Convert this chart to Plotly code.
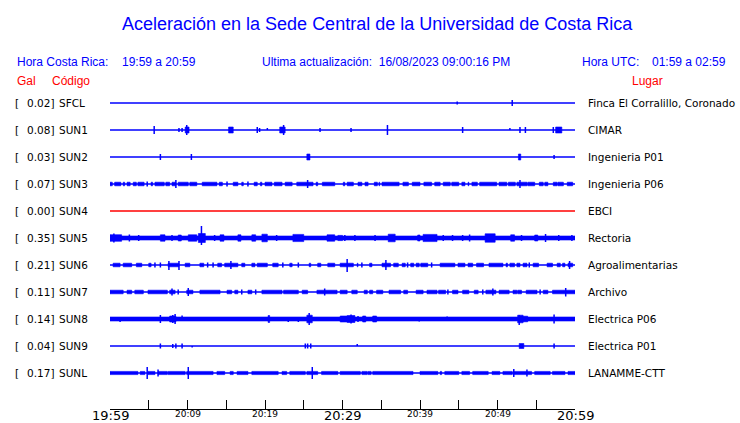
import plotly.graph_objects as go

# ---------------- data ----------------
codes = ["SFCL", "SUN1", "SUN2", "SUN3", "SUN4", "SUN5", "SUN6", "SUN7", "SUN8", "SUN9", "SUNL"]
gal = [0.02, 0.08, 0.03, 0.07, 0.00, 0.35, 0.21, 0.11, 0.14, 0.04, 0.17]
places = ["Finca El Corralillo, Coronado", "CIMAR", "Ingenieria P01", "Ingenieria P06", "EBCI",
          "Rectoria", "Agroalimentarias", "Archivo", "Electrica P06", "Electrica P01", "LANAMME-CTT"]
status_ok = [True, True, True, True, False, True, True, True, True, True, True]
# continuous noise level (relative amplitude) for each station
noise_level = [0, 0, 0, 0, 0, 2.0, 0, 0, 2.0, 0, 0]

# minutes after 19:59 for tick labels
tick_minutes = [0, 5, 10, 15, 20, 25, 30, 35, 40, 45, 50, 55, 60]
major_labels = {0: "19:59", 30: "20:29", 60: "20:59"}
minor_labels = {10: "20:09", 20: "20:19", 40: "20:39", 50: "20:49"}

# bursts: (start minute, end minute, amplitude); spikes: (minute, up amplitude, down amplitude)
sfcl_bursts = []
sfcl_spikes = [(44.8, 1.5, 1.5), (51.9, 3, 3)]

sun1_bursts = [(9.7, 10.2, 3), (15.3, 15.9, 3), (21.9, 22.6, 3), (57.5, 58.3, 3)]
sun1_spikes = [(5.7, 4, 4), (8.9, 2, 2), (9.3, 2, 2), (9.9, 5, 5), (19.0, 3, 3), (19.3, 2, 2),
               (20.3, 2, 0), (22.4, 5, 5), (27.1, 2, 2), (31.1, 2, 2), (35.8, 5, 5), (45.5, 3, 3),
               (51.6, 2, 0), (52.9, 3, 3), (53.6, 3, 3), (57.2, 3, 3)]

sun2_bursts = [(25.4, 25.8, 3), (52.7, 53.0, 3)]
sun2_spikes = [(6.5, 3, 3), (10.5, 3, 3), (57.3, 2, 2)]

sun3_bursts = [(0.0, 0.3, 1.8), (0.6, 1.4, 1.8), (1.7, 1.9, 1.8), (2.2, 2.6, 1.8), (3.0, 3.4, 1.8),
               (3.6, 4.4, 1.8), (5.3, 5.5, 1.8), (5.8, 7.0, 1.8), (7.2, 7.7, 1.8), (8.0, 8.5, 1.8),
               (8.8, 10.1, 1.8), (10.3, 11.2, 1.8), (11.9, 13.8, 1.8), (14.1, 14.5, 1.8),
               (15.9, 16.5, 1.8), (17.0, 17.2, 1.8), (18.6, 19.0, 1.8), (19.4, 19.6, 1.8),
               (20.0, 20.9, 1.8), (21.2, 22.2, 1.8), (22.6, 23.5, 1.8), (24.1, 26.2, 1.8),
               (26.6, 26.8, 1.8), (27.4, 29.0, 1.8), (30.1, 30.3, 1.8), (30.6, 31.4, 1.8),
               (32.0, 32.5, 1.8), (32.9, 33.3, 1.8), (34.1, 34.5, 1.8), (34.7, 34.8, 1.8),
               (35.1, 37.3, 1.8), (37.8, 38.5, 1.8), (39.0, 40.0, 1.8), (40.5, 41.5, 1.8),
               (41.9, 42.6, 1.8), (43.0, 43.9, 1.8), (44.1, 45.0, 1.8), (45.4, 45.8, 1.8),
               (46.2, 46.3, 1.8), (46.7, 47.4, 1.8), (47.7, 49.9, 1.8), (50.2, 51.2, 1.8),
               (51.4, 52.3, 1.8), (52.5, 53.8, 1.8), (53.9, 54.8, 1.8), (55.4, 55.9, 1.8),
               (56.1, 56.5, 1.8), (57.2, 57.7, 1.8), (57.8, 58.5, 1.8), (59.0, 59.7, 1.8)]
sun3_spikes = [(4.8, 2.5, 2.5), (8.5, 4, 4), (15.1, 2.5, 2.5), (17.8, 2.5, 2.5), (25.5, 4, 4), (52.9, 4, 4)]

sun4_bursts = []
sun4_spikes = []

sun5_bursts = [(0.0, 1.5, 3.3), (6.5, 7.1, 3.2), (8.8, 9.2, 3), (10.1, 11.2, 3.2), (11.4, 12.3, 4.5),
               (14.2, 14.7, 3.2), (16.5, 16.9, 3.2), (18.3, 18.8, 3.2), (19.6, 20.3, 3.8), (23.6, 25.0, 3.6),
               (28.0, 29.0, 3.2), (29.4, 30.0, 2.6), (35.9, 36.8, 3.8), (39.7, 40.0, 3), (40.4, 42.2, 3.6),
               (48.4, 49.7, 4.2), (51.7, 52.2, 3.2), (54.8, 55.2, 3)]
sun5_spikes = [(0.5, 4.5, 4.5), (2.5, 3.5, 3.5), (3.7, 3, 3), (8.0, 3, 3), (11.8, 12, 7), (13.5, 3, 3),
               (21.5, 3, 3), (30.3, 3, 3), (31.6, 3, 3), (34.2, 3, 3), (43.0, 3, 3), (44.2, 3, 3),
               (45.5, 3, 3), (46.4, 3.5, 3.5), (53.1, 3, 3), (56.2, 4, 4), (57.9, 3, 3), (59.6, 3, 3)]

sun6_bursts = [(0.4, 1.3, 1.8), (1.7, 2.8, 1.8), (3.4, 4.1, 1.8), (5.0, 5.3, 1.8), (7.5, 8.9, 1.8),
               (9.7, 10.3, 1.8), (11.6, 12.1, 1.8), (13.9, 14.4, 1.8), (14.8, 16.5, 1.8),
               (17.0, 17.4, 1.8), (18.3, 18.7, 1.8), (19.0, 20.3, 1.8), (21.0, 21.7, 1.8),
               (23.2, 23.5, 1.8), (25.7, 25.9, 1.8), (26.8, 27.2, 1.8), (28.1, 29.0, 1.8),
               (29.7, 31.4, 1.8), (31.9, 32.0, 1.8), (33.5, 33.8, 1.8), (35.1, 36.2, 1.8),
               (36.6, 37.2, 1.8), (37.7, 38.1, 1.8), (38.8, 39.2, 1.8), (39.5, 39.9, 1.8),
               (40.1, 41.0, 1.8), (42.6, 44.5, 1.8), (44.9, 45.8, 1.8), (46.2, 46.8, 1.8),
               (47.3, 48.2, 1.8), (48.9, 50.7, 1.8), (51.1, 51.3, 1.8), (51.6, 52.2, 1.8),
               (52.5, 52.9, 1.8), (53.3, 53.8, 1.8), (54.6, 55.3, 1.8), (56.4, 57.1, 1.8),
               (57.7, 58.1, 1.8), (58.4, 58.7, 1.8), (59.1, 59.7, 1.8)]
sun6_spikes = [(5.8, 2.5, 2.5), (6.5, 2.5, 2.5), (7.6, 4, 5), (8.9, 4, 5), (12.6, 2.5, 2.5),
               (13.3, 2.5, 2.5), (15.6, 4, 4), (22.3, 2.5, 2.5), (24.3, 2.5, 2.5), (30.6, 6, 7),
               (32.5, 2.5, 2.5), (35.6, 5, 5), (38.4, 2.5, 2.5), (41.5, 2.5, 2.5), (54.1, 2.5, 2.5),
               (59.3, 4, 4)]

sun7_bursts = [(0.0, 1.7, 1.8), (2.2, 2.8, 1.8), (3.2, 4.3, 1.8), (4.9, 7.4, 1.8), (7.7, 8.4, 1.8),
               (9.9, 10.7, 1.8), (11.6, 14.2, 1.8), (15.1, 15.7, 1.8), (16.1, 16.5, 1.8),
               (17.8, 18.3, 1.8), (19.6, 22.2, 1.8), (22.4, 24.3, 1.8), (24.8, 25.5, 1.8),
               (26.7, 29.3, 1.8), (29.7, 30.6, 1.8), (31.2, 31.9, 1.8), (32.8, 33.2, 1.8),
               (33.5, 33.9, 1.8), (34.4, 35.2, 1.8), (36.0, 37.5, 1.8), (37.9, 38.4, 1.8),
               (39.5, 40.4, 1.8), (40.9, 42.2, 1.8), (42.4, 43.3, 1.8), (44.2, 44.9, 1.8),
               (45.5, 46.3, 1.8), (47.0, 47.5, 1.8), (48.5, 49.8, 1.8), (50.2, 51.5, 1.8),
               (52.0, 52.5, 1.8), (52.6, 53.1, 1.8), (53.7, 55.1, 1.8), (55.9, 56.5, 1.8),
               (57.1, 60.0, 1.8)]
sun7_spikes = [(8.0, 3.5, 3.5), (8.8, 2.5, 2.5), (10.1, 4, 4), (17.0, 2.5, 2.5), (18.8, 2.5, 2.5),
               (27.7, 3.5, 3.5), (43.6, 2.5, 2.5), (48.1, 2.5, 2.5), (49.4, 3.5, 3.5), (55.5, 2.5, 2.5),
               (58.8, 4, 4.5)]

sun8_bursts = [(7.7, 8.5, 3), (20.4, 20.6, 3.5), (25.4, 26.1, 3.8), (29.7, 30.6, 3), (30.6, 31.6, 3.5),
               (32.6, 33.0, 3), (33.9, 34.4, 3), (52.6, 53.3, 3.8), (53.3, 53.9, 2.8)]
sun8_spikes = [(1.3, 0, 3), (6.5, 4, 4), (8.1, 4, 4), (8.4, 5, 5), (9.3, 3.5, 0), (23.0, 0, 3),
               (24.3, 0, 3), (25.7, 6, 6), (31.1, 4.5, 4.5), (32.0, 3, 3), (39.9, 0, 2.5),
               (43.5, 2.5, 0), (52.8, 4, 6), (57.3, 4.5, 4.5)]

sun9_bursts = [(52.8, 53.4, 2.5)]
sun9_spikes = [(6.5, 2.5, 2.5), (8.1, 2, 2), (8.5, 2.5, 2.5), (9.3, 2.5, 2.5), (10.6, 0, 1.5),
               (25.2, 2.5, 2.5), (25.5, 2.5, 2.5), (25.9, 2.5, 2.5), (31.9, 2, 0), (57.3, 2.5, 2.5)]

sunl_bursts = [(0.0, 3.6, 1.6), (3.9, 4.5, 1.6), (4.9, 5.8, 1.6), (6.2, 7.4, 1.6), (7.5, 9.7, 1.6),
               (9.9, 13.3, 1.6), (13.8, 14.8, 1.6), (15.5, 15.9, 1.6), (16.4, 17.8, 1.6),
               (18.3, 21.7, 1.6), (22.2, 22.8, 1.6), (23.2, 25.2, 1.6), (25.4, 26.8, 1.6),
               (27.3, 29.4, 1.6), (29.7, 32.3, 1.6), (32.5, 33.2, 1.6), (33.3, 33.7, 1.6),
               (33.9, 39.1, 1.6), (40.0, 42.3, 1.6), (42.6, 42.8, 1.6), (43.2, 45.0, 1.6),
               (45.4, 46.4, 1.6), (46.8, 48.8, 1.6), (49.3, 50.3, 1.6), (50.7, 51.9, 1.6),
               (52.0, 54.4, 1.6), (54.8, 56.8, 1.6), (57.1, 58.7, 1.6), (59.1, 60.0, 1.6)]
sunl_spikes = [(4.8, 6, 6), (6.2, 3.5, 3.5), (10.1, 6, 6), (26.1, 6, 6), (52.1, 4, 4), (53.8, 3.5, 3.5)]

all_bursts = [sfcl_bursts, sun1_bursts, sun2_bursts, sun3_bursts, sun4_bursts, sun5_bursts,
              sun6_bursts, sun7_bursts, sun8_bursts, sun9_bursts, sunl_bursts]
all_spikes = [sfcl_spikes, sun1_spikes, sun2_spikes, sun3_spikes, sun4_spikes, sun5_spikes,
              sun6_spikes, sun7_spikes, sun8_spikes, sun9_spikes, sunl_spikes]

# ---------------- layout constants ----------------
W, H = 740, 423
L, R, T, B = 110, 575, 90, 409
SPACING = 27.0           # px between traces
FIRST = 103.0            # px of first trace
AMP_SCALE = 1.0 / SPACING
BLUE = "#0000ff"
RED = "#ff0000"

y_top = (FIRST - T) / SPACING
y_bot = y_top - (B - T) / SPACING

fig = go.Figure()

for i, code in enumerate(codes):
    c = -i
    color = BLUE if status_ok[i] else RED
    # baseline
    fig.add_trace(go.Scatter(x=[0, 60], y=[c, c], mode="lines",
                             line=dict(color=color, width=1.5), hoverinfo="skip", showlegend=False))
    # bursts (incl. continuous noise band)
    bursts = list(all_bursts[i])
    if noise_level[i] > 0:
        bursts = [(0, 60, noise_level[i])] + bursts
    if bursts:
        xs, ys = [], []
        for t0, t1, a in bursts:
            a = a * AMP_SCALE
            xs += [t0, t1, t1, t0, t0, None]
            ys += [c + a, c + a, c - a, c - a, c + a, None]
        fig.add_trace(go.Scatter(x=xs, y=ys, mode="lines", fill="toself", fillcolor=color,
                                 line=dict(color=color, width=0.6), hoverinfo="skip", showlegend=False))
    spikes = all_spikes[i]
    if spikes:
        xs, ys = [], []
        for t, up, dn in spikes:
            xs += [t, t, None]
            ys += [c + up * AMP_SCALE, c - dn * AMP_SCALE, None]
        fig.add_trace(go.Scatter(x=xs, y=ys, mode="lines",
                                 line=dict(color=color, width=1.5), hoverinfo="skip", showlegend=False))

annotations = []
PW = R - L
PH = B - T


def px2paperx(px):
    return (px - L) / PW


def py2papery(py):
    return (B - py) / PH


sans = "Liberation Sans, Arial, sans-serif"
dejavu = "DejaVu Sans, sans-serif"

# title
annotations.append(dict(text="Aceleración en la Sede Central de la Universidad de Costa Rica",
                        xref="paper", yref="paper", x=px2paperx(377), y=py2papery(23.5),
                        xanchor="center", yanchor="middle", showarrow=False,
                        font=dict(family=sans, size=18, color=BLUE)))
# header row
for txt, px in [("Hora Costa Rica:", 15), ("19:59 a 20:59", 120),
                ("Ultima actualización:  16/08/2023 09:00:16 PM", 260),
                ("Hora UTC:", 580), ("01:59 a 02:59", 650)]:
    annotations.append(dict(text=txt, xref="paper", yref="paper", x=px2paperx(px), y=py2papery(61.5),
                            xanchor="left", yanchor="middle", showarrow=False,
                            font=dict(family=sans, size=12, color=BLUE)))
for txt, px in [("Gal", 15), ("Código", 50), ("Lugar", 630)]:
    annotations.append(dict(text=txt, xref="paper", yref="paper", x=px2paperx(px), y=py2papery(80.5),
                            xanchor="left", yanchor="middle", showarrow=False,
                            font=dict(family=sans, size=12, color=RED)))

# station labels
LBL = 10.5
for i, code in enumerate(codes):
    c = -i
    annotations.append(dict(text="[", xref="paper", yref="y", x=px2paperx(13), y=c,
                            xanchor="left", yanchor="middle", showarrow=False,
                            font=dict(family=dejavu, size=LBL, color="black")))
    annotations.append(dict(text=f"{gal[i]:.2f}]", xref="paper", yref="y", x=px2paperx(56), y=c,
                            xanchor="right", yanchor="middle", showarrow=False,
                            font=dict(family=dejavu, size=LBL, color="black")))
    annotations.append(dict(text=code, xref="paper", yref="y", x=px2paperx(57), y=c,
                            xanchor="left", yanchor="middle", showarrow=False,
                            font=dict(family=dejavu, size=LBL, color="black")))
    annotations.append(dict(text=places[i], xref="paper", yref="y", x=px2paperx(586), y=c,
                            xanchor="left", yanchor="middle", showarrow=False,
                            font=dict(family=dejavu, size=LBL, color="black")))

# time labels
for m, lab in major_labels.items():
    annotations.append(dict(text=lab, xref="x", yref="paper", x=m, y=0, yshift=-6,
                            xanchor="center", yanchor="middle", showarrow=False,
                            font=dict(family=dejavu, size=13, color="black")))
for m, lab in minor_labels.items():
    annotations.append(dict(text=lab, xref="x", yref="paper", x=m, y=0, yshift=-5,
                            xanchor="center", yanchor="middle", showarrow=False,
                            font=dict(family=dejavu, size=9, color="black")))

fig.update_layout(
    width=W, height=H,
    margin=dict(l=L, r=W - R, t=T, b=H - B, pad=0),
    paper_bgcolor="white", plot_bgcolor="white",
    showlegend=False,
    annotations=annotations,
    xaxis=dict(range=[0, 60], showgrid=False, zeroline=False, showline=True, linecolor="black",
               linewidth=1, ticks="inside", tickvals=tick_minutes, ticklen=9, tickcolor="black",
               tickwidth=1, showticklabels=False, fixedrange=True),
    yaxis=dict(range=[y_bot, y_top], visible=False, fixedrange=True),
)

fig.write_html("out.html", config={"displayModeBar": False},
               post_script="document.body.style.margin='0';document.body.style.overflow='hidden';")
